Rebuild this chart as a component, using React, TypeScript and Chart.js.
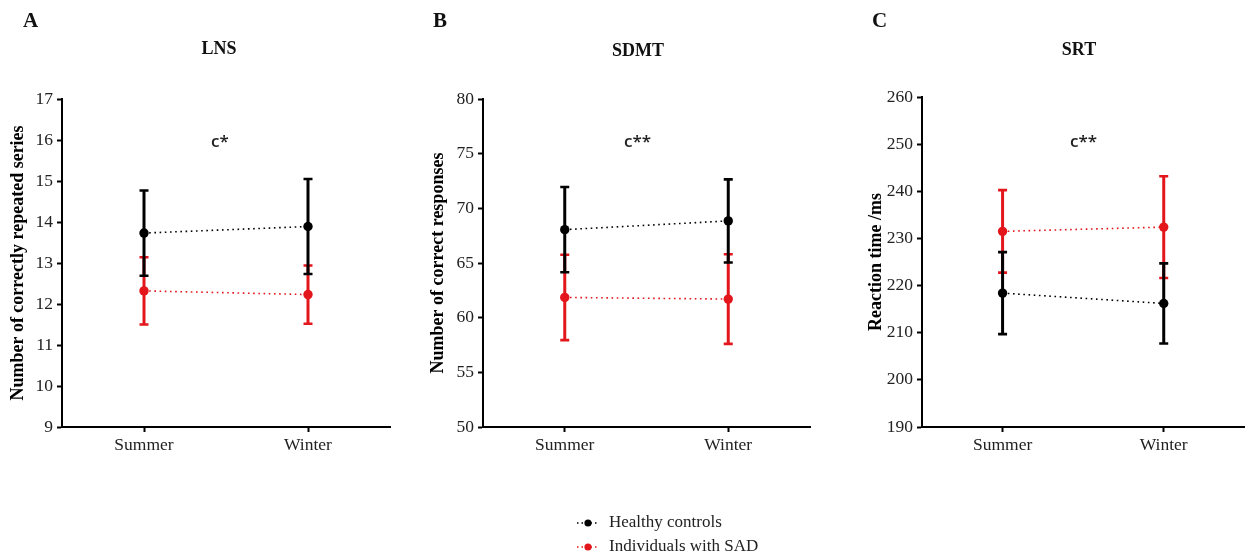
import React, { useEffect, useRef } from "react";
import { Chart, registerables } from "chart.js";

Chart.register(...registerables);

// ---------- data ----------
const seasons = ["Summer", "Winter"];
const groupLabels = ["Healthy controls", "Individuals with SAD"];
const groupColors = ["#000000", "#e3161c"];

// Panel A – LNS
const lnsHealthyMean = [13.73, 13.89];
const lnsHealthyErr = [1.04, 1.16];
const lnsSadMean = [12.32, 12.23];
const lnsSadErr = [0.82, 0.71];
const lnsTicks = { min: 9, max: 17, step: 1 };

// Panel B – SDMT
const sdmtHealthyMean = [68.05, 68.85];
const sdmtHealthyErr = [3.9, 3.8];
const sdmtSadMean = [61.85, 61.7];
const sdmtSadErr = [3.9, 4.1];
const sdmtTicks = { min: 50, max: 80, step: 5 };

// Panel C – SRT
const srtHealthyMean = [218.4, 216.2];
const srtHealthyErr = [8.7, 8.5];
const srtSadMean = [231.5, 232.4];
const srtSadErr = [8.75, 10.8];
const srtTicks = { min: 190, max: 260, step: 10 };

const panelLetters = ["A", "B", "C"];
const panelTitles = ["LNS", "SDMT", "SRT"];
const yAxisTitles = [
  "Number of correctly repeated series",
  "Number of correct responses",
  "Reaction time /ms",
];
const significance = ["c*", "c**", "c**"];

// ---------- styling ----------
const SERIF = '"Liberation Serif", "Times New Roman", serif';
const SANS = '"Open Sans", "Noto Sans", sans-serif';

const errorBarPlugin = {
  id: "errorBars",
  beforeDatasetDraw(chart: any, args: any) {
    const ds: any = chart.data.datasets[args.index];
    const errs: number[] = ds.errors;
    if (!errs) return;
    const y = chart.scales.y;
    const ctx = chart.ctx;
    ctx.save();
    ctx.strokeStyle = ds.borderColor;
    ctx.lineWidth = 3;
    ctx.setLineDash([]);
    args.meta.data.forEach((pt: any, i: number) => {
      const v = ds.data[i];
      const e = errs[i];
      const yt = y.getPixelForValue(v + e);
      const yb = y.getPixelForValue(v - e);
      const x = pt.x;
      ctx.beginPath();
      ctx.moveTo(x, yt);
      ctx.lineTo(x, yb);
      ctx.stroke();
      ctx.lineWidth = 2.6;
      ctx.beginPath();
      ctx.moveTo(x - 4.5, yt);
      ctx.lineTo(x + 4.5, yt);
      ctx.moveTo(x - 4.5, yb);
      ctx.lineTo(x + 4.5, yb);
      ctx.stroke();
      ctx.lineWidth = 3;
    });
    ctx.restore();
  },
};

const decorPlugin = {
  id: "decor",
  afterDraw(chart: any, _args: any, opts: any) {
    const ctx = chart.ctx;
    ctx.save();
    ctx.fillStyle = "#111";
    ctx.textBaseline = "middle";
    // panel letter
    ctx.font = `bold 21px ${SERIF}`;
    ctx.textAlign = "left";
    ctx.fillText(opts.letter, opts.letterX, 22);
    // panel title
    ctx.font = `bold 18px ${SERIF}`;
    ctx.textAlign = "center";
    ctx.fillText(opts.title, opts.titleX, opts.titleY);
    // significance note
    ctx.font = `600 17px ${SANS}`;
    ctx.textAlign = "left";
    ctx.textBaseline = "alphabetic";
    ctx.fillStyle = "#222";
    ctx.fillText(opts.note, opts.noteX, 147);
    // legend
    if (opts.legend) {
      const rows = [523, 547];
      chart.data.datasets.forEach((ds: any, i: number) => {
        const yy = rows[i];
        ctx.strokeStyle = ds.borderColor;
        ctx.lineWidth = 1.4;
        ctx.setLineDash([1.5, 3]);
        ctx.beginPath();
        ctx.moveTo(157, yy);
        ctx.lineTo(179, yy);
        ctx.stroke();
        ctx.setLineDash([]);
        ctx.fillStyle = ds.borderColor;
        ctx.beginPath();
        ctx.arc(168, yy, 3.6, 0, Math.PI * 2);
        ctx.fill();
        ctx.fillStyle = "#222";
        ctx.font = `17px ${SERIF}`;
        ctx.textBaseline = "middle";
        ctx.fillText(ds.label, 189, yy);
      });
    }
    ctx.restore();
  },
};

type PanelCfg = {
  left: number;
  width: number;
  axisWidth: number;
  padRight: number;
  padTop: number;
  idx: number;
  healthyMean: number[];
  healthyErr: number[];
  sadMean: number[];
  sadErr: number[];
  ticks: { min: number; max: number; step: number };
  letterX: number;
  titleX: number;
  titleY: number;
  noteX: number;
  legend: boolean;
};

const panels: PanelCfg[] = [
  {
    left: 0, width: 420, axisWidth: 62, padRight: 30, padTop: 99, idx: 0,
    healthyMean: lnsHealthyMean, healthyErr: lnsHealthyErr,
    sadMean: lnsSadMean, sadErr: lnsSadErr, ticks: lnsTicks,
    letterX: 23, titleX: 219, titleY: 49, noteX: 211, legend: false,
  },
  {
    left: 420, width: 420, axisWidth: 63, padRight: 30, padTop: 99, idx: 1,
    healthyMean: sdmtHealthyMean, healthyErr: sdmtHealthyErr,
    sadMean: sdmtSadMean, sadErr: sdmtSadErr, ticks: sdmtTicks,
    letterX: 13, titleX: 218, titleY: 51, noteX: 204, legend: true,
  },
  {
    left: 858, width: 391, axisWidth: 64, padRight: 0, padTop: 97, idx: 2,
    healthyMean: srtHealthyMean, healthyErr: srtHealthyErr,
    sadMean: srtSadMean, sadErr: srtSadErr, ticks: srtTicks,
    letterX: 14, titleX: 221, titleY: 50, noteX: 212, legend: false,
  },
];

function axisCommon() {
  return {
    grid: {
      display: true,
      drawOnChartArea: false,
      drawTicks: true,
      tickLength: 5,
      tickWidth: 2,
      tickColor: "#000",
      offset: false,
    },
    border: { display: true, color: "#000", width: 2 },
  };
}

function Panel({ cfg }: { cfg: PanelCfg }) {
  const ref = useRef<HTMLCanvasElement | null>(null);
  useEffect(() => {
    if (!ref.current) return;
    const chart = new Chart(ref.current, {
      type: "line",
      data: {
        labels: seasons,
        datasets: [
          {
            label: groupLabels[0],
            data: cfg.healthyMean,
            errors: cfg.healthyErr,
            borderColor: groupColors[0],
            backgroundColor: groupColors[0],
            pointBackgroundColor: groupColors[0],
            pointBorderWidth: 0,
            pointRadius: 4.7,
            borderWidth: 1.6,
            borderDash: [1.6, 3.6],
            tension: 0,
            fill: false,
          } as any,
          {
            label: groupLabels[1],
            data: cfg.sadMean,
            errors: cfg.sadErr,
            borderColor: groupColors[1],
            backgroundColor: groupColors[1],
            pointBackgroundColor: groupColors[1],
            pointBorderWidth: 0,
            pointRadius: 4.7,
            borderWidth: 1.6,
            borderDash: [1.6, 3.6],
            tension: 0,
            fill: false,
          } as any,
        ],
      },
      options: {
        responsive: false,
        animation: false,
        devicePixelRatio: 1,
        layout: {
          padding: { left: 0, right: cfg.padRight, top: cfg.padTop, bottom: 90 },
        },
        plugins: {
          legend: { display: false },
          tooltip: { enabled: false },
          title: { display: false },
          decor: {
            letter: panelLetters[cfg.idx],
            letterX: cfg.letterX,
            title: panelTitles[cfg.idx],
            titleX: cfg.titleX,
            titleY: cfg.titleY,
            note: significance[cfg.idx],
            noteX: cfg.noteX,
            legend: cfg.legend,
          },
        } as any,
        scales: {
          x: {
            type: "category",
            offset: true,
            ...axisCommon(),
            ticks: {
              color: "#222",
              padding: 3,
              font: { family: SERIF, size: 17.5 },
            },
            afterFit: (s: any) => {
              s.height = 40;
            },
          },
          y: {
            type: "linear",
            min: cfg.ticks.min,
            max: cfg.ticks.max,
            ...axisCommon(),
            ticks: {
              stepSize: cfg.ticks.step,
              color: "#222",
              padding: 4,
              font: { family: SERIF, size: 17.5 },
            },
            title: {
              display: true,
              text: yAxisTitles[cfg.idx],
              color: "#000",
              font: { family: SERIF, size: 18, weight: "bold" },
              padding: { top: 7.5, bottom: 0 },
            },
            afterFit: (s: any) => {
              s.width = cfg.axisWidth;
            },
          },
        } as any,
      },
      plugins: [errorBarPlugin, decorPlugin],
    });
    return () => chart.destroy();
  }, [cfg]);
  return (
    <canvas
      ref={ref}
      width={cfg.width}
      height={557}
      style={{ position: "absolute", left: cfg.left, top: 0, width: cfg.width, height: 557 }}
    />
  );
}

export default function App() {
  return (
    <div
      style={{
        position: "absolute",
        left: 0,
        top: 0,
        width: 1249,
        height: 557,
        background: "#ffffff",
        overflow: "hidden",
      }}
    >
      {panels.map((p) => (
        <Panel key={p.idx} cfg={p} />
      ))}
    </div>
  );
}
